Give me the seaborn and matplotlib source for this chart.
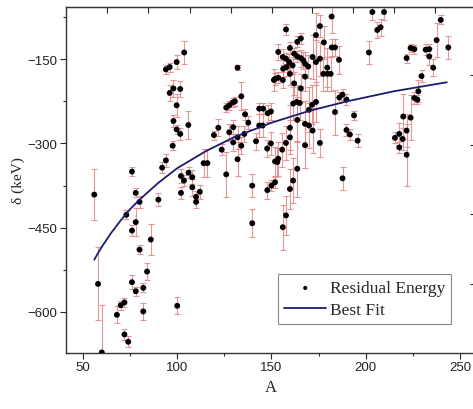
import numpy as np
import pandas as pd
import matplotlib
matplotlib.use("Agg")
import matplotlib.pyplot as plt
import seaborn as sns
from matplotlib.ticker import MultipleLocator

# --- dados ---
mass_A = [56, 58, 60, 68, 70, 72, 72, 74, 73, 78, 80, 78, 76, 86, 80, 84, 76, 78, 82, 82,
          90, 100, 76, 92, 94, 97.6, 99.7, 98, 96, 98, 101.6, 99.7, 101.6, 105.9, 94, 96,
          99.7, 103.7, 114, 116, 102, 103.6, 106, 108, 102, 108, 110, 110, 112, 119.5,
          121.8, 123.6, 126, 127.6, 129.4, 130.6, 126, 127.6, 129.7, 129.7, 132, 132, 134,
          136, 137.7, 132, 134, 135.6, 143.5, 145.6, 148, 149.7, 143.5, 145.3, 141.8, 147.7,
          149.7, 151.3, 157.7, 181.9, 175.7, 173.6, 177.8, 165.6, 163.7, 153.6, 159.8, 156,
          157.7, 162, 163.7, 165.6, 166.9, 167.8, 169.5, 171.8, 173.6, 175.7, 182, 183.7,
          185.8, 179.6, 177.5, 179.6, 181.4, 156.2, 158, 159.4, 161.2, 151.9, 153.6, 156,
          159.8, 162, 167.8, 165.6, 161.5, 163.3, 165, 171.6, 173.6, 169.9, 186, 187.7,
          189.8, 183.7, 193.8, 163.7, 167.8, 169.9, 171.8, 159.8, 189.8, 191.6, 195.7,
          175.7, 157.7, 159.8, 167.8, 155.7, 153.6, 151.9, 153.1, 163.7, 187.7, 161.5,
          159.8, 157.7, 156, 151.9, 150, 139.8, 147.8, 139.8, 203.5, 209.7, 206.1, 207.9,
          201.7, 239.8, 237.6, 243.8, 221.7, 223.8, 225.8, 231.8, 233.7, 233.7, 235.8,
          229.6, 227.9, 225.8, 227.4, 219.9, 223.8, 221.7, 215.5, 217.8, 219.6, 217.8, 221.7]

residual = [-391, -550, -672, -605, -588, -583, -640, -653, -427, -388, -404, -440, -455, -471,
            -489, -528, -547, -563, -557, -599, -400, -589, -350, -343, -330, -304, -275, -260,
            -210, -202, -203, -232, -283, -267, -168, -164, -155, -138, -335, -335, -358, -366,
            -352, -360, -388, -378, -395, -404, -386, -285, -272, -311, -236, -232, -227, -225,
            -355, -280, -271, -298, -328, -165, -216, -248, -263, -289, -304, -283, -238, -238,
            -246, -243, -268, -268, -296, -309, -300, -187, -97, -74, -91, -107, -120, -113,
            -119, -137, -130, -146, -149, -140, -145, -148, -152, -158, -163, -146, -155, -149,
            -129, -129, -151, -165, -176, -176, -176, -167, -164, -155, -161, -185, -183, -187,
            -176, -193, -181, -202, -229, -226, -228, -231, -226, -240, -218, -213, -222, -244,
            -250, -258, -265, -268, -277, -272, -276, -284, -295, -299, -299, -289, -303, -311,
            -327, -332, -333, -345, -362, -366, -381, -428, -449, -369, -375, -375, -383, -442,
            -66, -66, -98, -93, -138, -80, -116, -129, -148, -130, -132, -133, -132, -145, -165,
            -180, -207, -219, -222, -252, -254, -277, -290, -283, -292, -307, -320]

erro = [45, 65, 85, 15, 8, 8, 10, 10, 8, 8, 10, 25, 10, 28, 8, 15, 12, 8, 8, 15,
        12, 15, 8, 10, 12, 8, 8, 10, 15, 15, 15, 20, 10, 25, 8, 8, 12, 20, 25, 25,
        12, 10, 10, 12, 10, 15, 10, 10, 12, 8, 15, 10, 8, 8, 8, 8, 40, 15, 12, 15,
        30, 5, 25, 10, 12, 20, 15, 15, 10, 10, 15, 15, 20, 20, 15, 15, 20, 20, 10, 30,
        20, 40, 30, 10, 10, 15, 10, 15, 10, 10, 10, 15, 15, 20, 20, 40, 40, 30, 15, 15,
        25, 35, 30, 30, 30, 15, 15, 15, 15, 10, 10, 15, 20, 20, 25, 25, 30, 30, 30, 35,
        35, 40, 10, 10, 10, 40, 8, 40, 40, 40, 40, 40, 10, 10, 12, 25, 30, 30, 40, 30,
        30, 25, 25, 50, 20, 40, 35, 35, 40, 10, 10, 20, 15, 25, 15, 15, 15, 15, 20, 8,
        30, 20, 8, 8, 8, 10, 10, 15, 15, 10, 20, 10, 8, 40, 40, 30, 10, 20, 20, 10, 55]

# curva de ajuste
fit_A = [56, 58, 60, 62, 65, 70, 75, 80, 90, 100, 115, 130, 150, 170, 190, 215, 243]
fit_delta = [-507, -495, -484, -474, -459, -437, -417, -400, -370, -344, -314, -289, -263,
             -242, -225, -207, -191]

top_ticks = [62.7, 84.5, 106.8, 128.5, 150.3, 171.5, 193.2, 215, 236.8]
right_ticks = [-178.5, -303, -426, -550]

df = pd.DataFrame({"A": mass_A, "delta": residual, "err": erro})
df_fit = pd.DataFrame({"A": fit_A, "delta": fit_delta})

# --- grafico ---
sns.set_style("ticks")
plt.rcParams["font.family"] = ["Liberation Sans", "DejaVu Sans"]

fig = plt.figure(figsize=(4.73, 4.10), dpi=100)
ax = fig.add_axes([66 / 473, 1 - 354 / 410, 410 / 473, 346 / 410])

ax.errorbar(df["A"], df["delta"], yerr=df["err"], fmt="none", ecolor="#e68a8a",
            elinewidth=0.8, capsize=2.5, capthick=0.8, alpha=0.9, zorder=2)
sns.scatterplot(data=df, x="A", y="delta", color="black", s=18, edgecolor="none",
                ax=ax, zorder=3, label="Residual Energy")
sns.lineplot(data=df_fit, x="A", y="delta", color="#1c1c6e", linewidth=1.3,
             ax=ax, zorder=4, label="Best Fit")

ax.set_xlim(41, 258.5)
ax.set_ylim(-673, -57)
ax.set_xticks([50, 100, 150, 200, 250])
ax.set_yticks([-150, -300, -450, -600])
ax.xaxis.set_minor_locator(MultipleLocator(25))
ax.yaxis.set_minor_locator(MultipleLocator(75))
ax.tick_params(which="major", direction="out", length=4, width=0.8, labelsize=9.5,
               labelcolor="#222222", pad=2)
ax.tick_params(which="minor", direction="out", length=2.5, width=0.8)
for s in ax.spines.values():
    s.set_linewidth(1.0)
    s.set_color("#333333")

sec_top = ax.secondary_xaxis("top")
sec_top.set_xticks(top_ticks)
sec_top.tick_params(direction="in", length=4, labeltop=False)
sec_right = ax.secondary_yaxis("right")
sec_right.set_yticks(right_ticks)
sec_right.tick_params(direction="in", length=4, labelright=False)

ax.set_xlabel("A", family=["Liberation Serif", "DejaVu Serif"], fontsize=12, labelpad=4)
ax.set_ylabel("δ (keV)", family=["Liberation Serif", "DejaVu Serif"], fontsize=11, labelpad=2)

leg = ax.legend(loc="lower right", bbox_to_anchor=(0.939, 0.084), frameon=True,
                fancybox=False, edgecolor="#888888", framealpha=1,
                prop={"family": ["Liberation Serif", "DejaVu Serif"], "size": 12.5},
                handlelength=2.4, handletextpad=0.2, labelspacing=0.3,
                borderpad=0.35, borderaxespad=0, markerscale=0.7)
leg.get_frame().set_linewidth(0.8)

fig.savefig("out.png", dpi=100)
